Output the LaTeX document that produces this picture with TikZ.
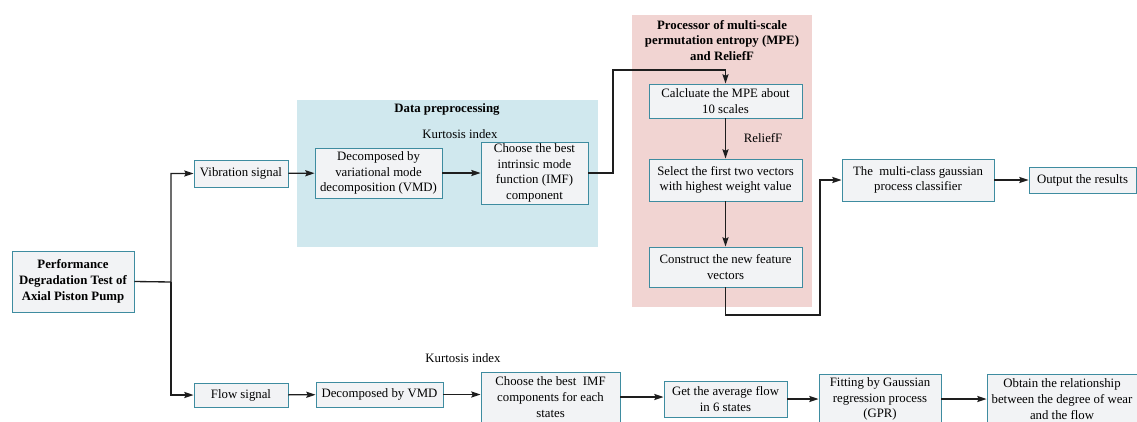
\documentclass[tikz,border=0pt]{standalone}
\usepackage{fontspec}
\setmainfont{Liberation Serif}
\usetikzlibrary{arrows.meta}

\definecolor{boxfill}{RGB}{242,243,245}
\definecolor{boxline}{RGB}{62,140,160}
\definecolor{prebg}{RGB}{208,232,238}
\definecolor{mpebg}{RGB}{241,212,210}
\definecolor{flowline}{RGB}{30,30,30}

\begin{document}
\begin{tikzpicture}[x=0.75pt,y=-0.75pt,font=\fontsize{9.6}{11.8}\selectfont]
        \useasboundingbox (0,0) rectangle (1137,421);
        \clip (0,0) rectangle (1137,421);

        % background panels
        \fill [prebg] (297,100) rectangle (598,247);
        \fill [mpebg] (632,15) rectangle (812,307);
        \node (pretitle) at (447,109) {\bfseries Data preprocessing};
        \node [align=center] (mpetitle) at (722,40.5)
            {\bfseries Processor of multi-scale\\ \bfseries permutation entropy (MPE)\\ \bfseries and ReliefF};

        \begin{scope}[every node/.style={draw=boxline,fill=boxfill,line width=0.7pt,
                      align=center,inner sep=1pt}]
            \node [minimum width=91.5pt,minimum height=45.75pt] (perf) at (73,281.5)
                {\bfseries Performance\\ \bfseries Degradation Test of\\ \bfseries Axial Piston Pump};
            \node [minimum width=70.5pt,minimum height=20.25pt] (vib) at (241,173.5) {Vibration signal};
            \node [minimum width=70.5pt,minimum height=18pt] (flow) at (241,395) {Flow signal};
            \node [minimum width=95.25pt,minimum height=37.5pt] (dec1) at (378.5,173)
                {Decomposed by\\ variational mode\\ decomposition (VMD)};
            \node [minimum width=80.25pt,minimum height=46.5pt] (best1) at (534.5,173)
                {Choose the best\\ intrinsic mode\\ function (IMF)\\ component};
            \node [minimum width=114.75pt,minimum height=25.5pt] (mpe) at (725.5,101)
                {Calcluate the MPE about\\ 10 scales};
            \node [minimum width=114.75pt,minimum height=31.5pt] (sel) at (725.5,180)
                {Select the first two vectors\\ with highest weight value};
            \node [minimum width=114.75pt,minimum height=30pt] (con) at (725.5,267)
                {Construct the new feature\\ vectors};
            \node [minimum width=114pt,minimum height=31.5pt] (gpc) at (918,180)
                {The\ \ multi-class gaussian\\ process classifier};
            \node [minimum width=80.25pt,minimum height=19.5pt] (out) at (1082.5,180) {Output the results};
            \node [minimum width=95.25pt,minimum height=18.75pt] (dec2) at (379.5,394.5) {Decomposed by VMD};
            \node [minimum width=104.25pt,minimum height=37.5pt] (best2) at (550.5,397)
                {Choose the best\ \ IMF\\ components for each\\ states};
            \node [minimum width=92.25pt,minimum height=27pt] (avg) at (725.5,399)
                {Get the average flow\\ in 6 states};
            \node [minimum width=91.5pt,minimum height=37.5pt] (gpr) at (880,399)
                {Fitting by Gaussian\\ regression process\\ (GPR)};
            \node [minimum width=112.5pt,minimum height=37.5pt] (rel) at (1062,399)
                {Obtain the relationship\\ between the degree of wear\\ and the flow};
        \end{scope}

        \node (kurt1) at (460,134) {Kurtosis index};
        \node (kurt2) at (463,358) {Kurtosis index};

        \coordinate (br) at (171,282);
        \coordinate (c1) at (613,70);
        \coordinate (c2) at (820,315);

        \begin{scope}[>={Stealth[length=7pt,width=4.6pt,inset=1.2pt,flowline]},
                    every path/.style={draw=flowline,line width=1pt}]
            \draw [->] (perf.east) -- (br) |- (vib.west);
            \draw [->] (br) |- (flow.west);
            \draw [->] (vib) -- (dec1);
            \draw [->] (dec1) -- (best1);
            \draw [->] (best1.east) -| (c1) -| (mpe.north);
            \draw [->] (mpe) -- node [right=10pt] {ReliefF} (sel);
            \draw [->] (sel) -- (con);
            \draw [->] (con.south) |- (c2) |- (gpc.west);
            \draw [->] (gpc) -- (out);
            \draw [->] (flow) -- (dec2);
            \draw [->] (dec2) -- (best2.west |- dec2);
            \draw [->] (best2) -- (avg.west |- best2);
            \draw [->] (avg) -- (gpr);
            \draw [->] (gpr) -- (rel);
        \end{scope}
    \end{tikzpicture}
\end{document}
